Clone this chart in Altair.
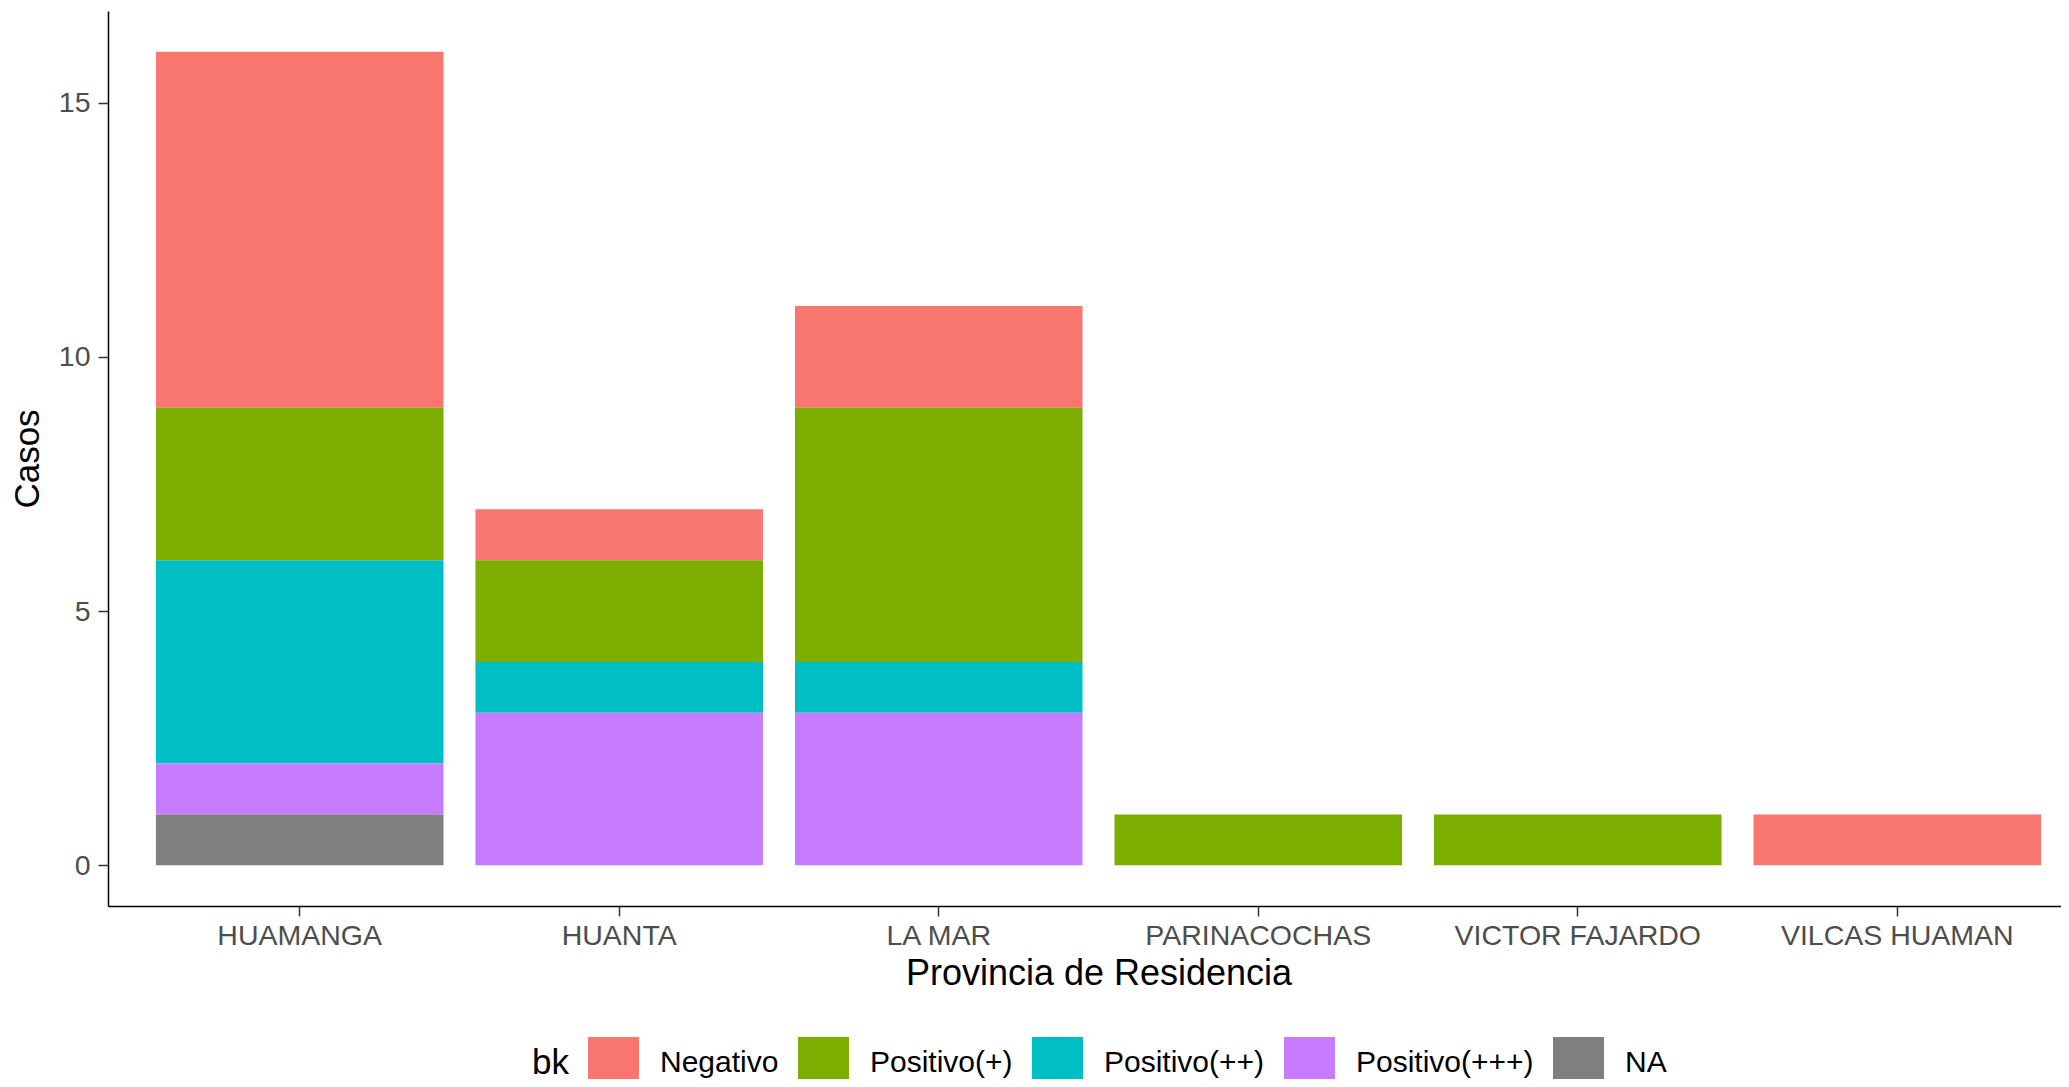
import altair as alt
import pandas as pd

provincias = ["HUAMANGA", "HUANTA", "LA MAR", "PARINACOCHAS", "VICTOR FAJARDO", "VILCAS HUAMAN"]
niveles = ["Negativo", "Positivo(+)", "Positivo(++)", "Positivo(+++)", "NA"]
colores = ["#F8766D", "#7CAE00", "#00BFC4", "#C77CFF", "#7F7F7F"]

negativo = [7, 1, 2, 0, 0, 1]
positivo1 = [3, 2, 5, 1, 1, 0]
positivo2 = [4, 1, 1, 0, 0, 0]
positivo3 = [1, 3, 3, 0, 0, 0]
na_vals = [1, 0, 0, 0, 0, 0]

series = [negativo, positivo1, positivo2, positivo3, na_vals]
rows = []
for k, (nivel, vals) in enumerate(zip(niveles, series)):
    for prov, v in zip(provincias, vals):
        if v > 0:
            rows.append({"provincia": prov, "bk": nivel, "casos": v, "ord": k})
df = pd.DataFrame(rows)

FONT = "Liberation Sans"

chart = alt.Chart(df).mark_bar().encode(
    x=alt.X(
        "provincia:N",
        sort=provincias,
        title="Provincia de Residencia",
        scale=alt.Scale(paddingInner=0.1, paddingOuter=0.15, range=[0, 1981]),
        axis=alt.Axis(
            labelAngle=0, labelFontSize=28.5, labelColor="#4D4D4D", labelPadding=5,
            labelLimit=500,
            tickSize=10, tickColor="#333333", tickWidth=1.5,
            domainColor="#000000", domainWidth=1.5,
            titleFontSize=36, titleColor="#000000", titleFontWeight="normal",
            titleBaseline="alphabetic", titleY=78, titleX=990.5, grid=False,
        ),
    ),
    y=alt.Y(
        "casos:Q",
        stack="zero",
        title="Casos",
        scale=alt.Scale(domain=[-0.8, 16.8], nice=False, zero=False),
        axis=alt.Axis(
            values=[0, 5, 10, 15], labelFontSize=28.5, labelColor="#4D4D4D", labelPadding=8,
            tickSize=10, tickColor="#333333", tickWidth=1.5,
            domainColor="#000000", domainWidth=1.5,
            titleFontSize=35, titleColor="#000000", titleFontWeight="normal",
            titleAngle=270, titleBaseline="alphabetic", titleX=-70, titleY=447.5,
            titleAlign="center", grid=False,
        ),
    ),
    color=alt.Color(
        "bk:N",
        scale=alt.Scale(domain=niveles, range=colores),
        legend=alt.Legend(
            title="bk", orient="none", legendX=424, legendY=1026,
            direction="horizontal", titleOrient="left", titleAnchor="middle",
            titleBaseline="middle",
            symbolType="square", symbolSize=2601, symbolStrokeWidth=0,
            labelFontSize=30, labelColor="#000000", labelOffset=21, columnPadding=19,
            labelLimit=400, titleFontSize=35, titleFontWeight="normal",
            titleColor="#000000", titlePadding=19, padding=0,
        ),
    ),
    order=alt.Order("ord:Q", sort="descending"),
).properties(
    width=1953,
    height=895,
    autosize=alt.AutoSizeParams(type="none"),
    padding={"left": 100, "top": 3, "right": 0, "bottom": 173},
).configure_view(stroke=None).configure_axis(
    labelFont=FONT, titleFont=FONT
).configure_legend(labelFont=FONT, titleFont=FONT)

chart.save("out.html", embed_options={"renderer": "svg", "actions": False})
